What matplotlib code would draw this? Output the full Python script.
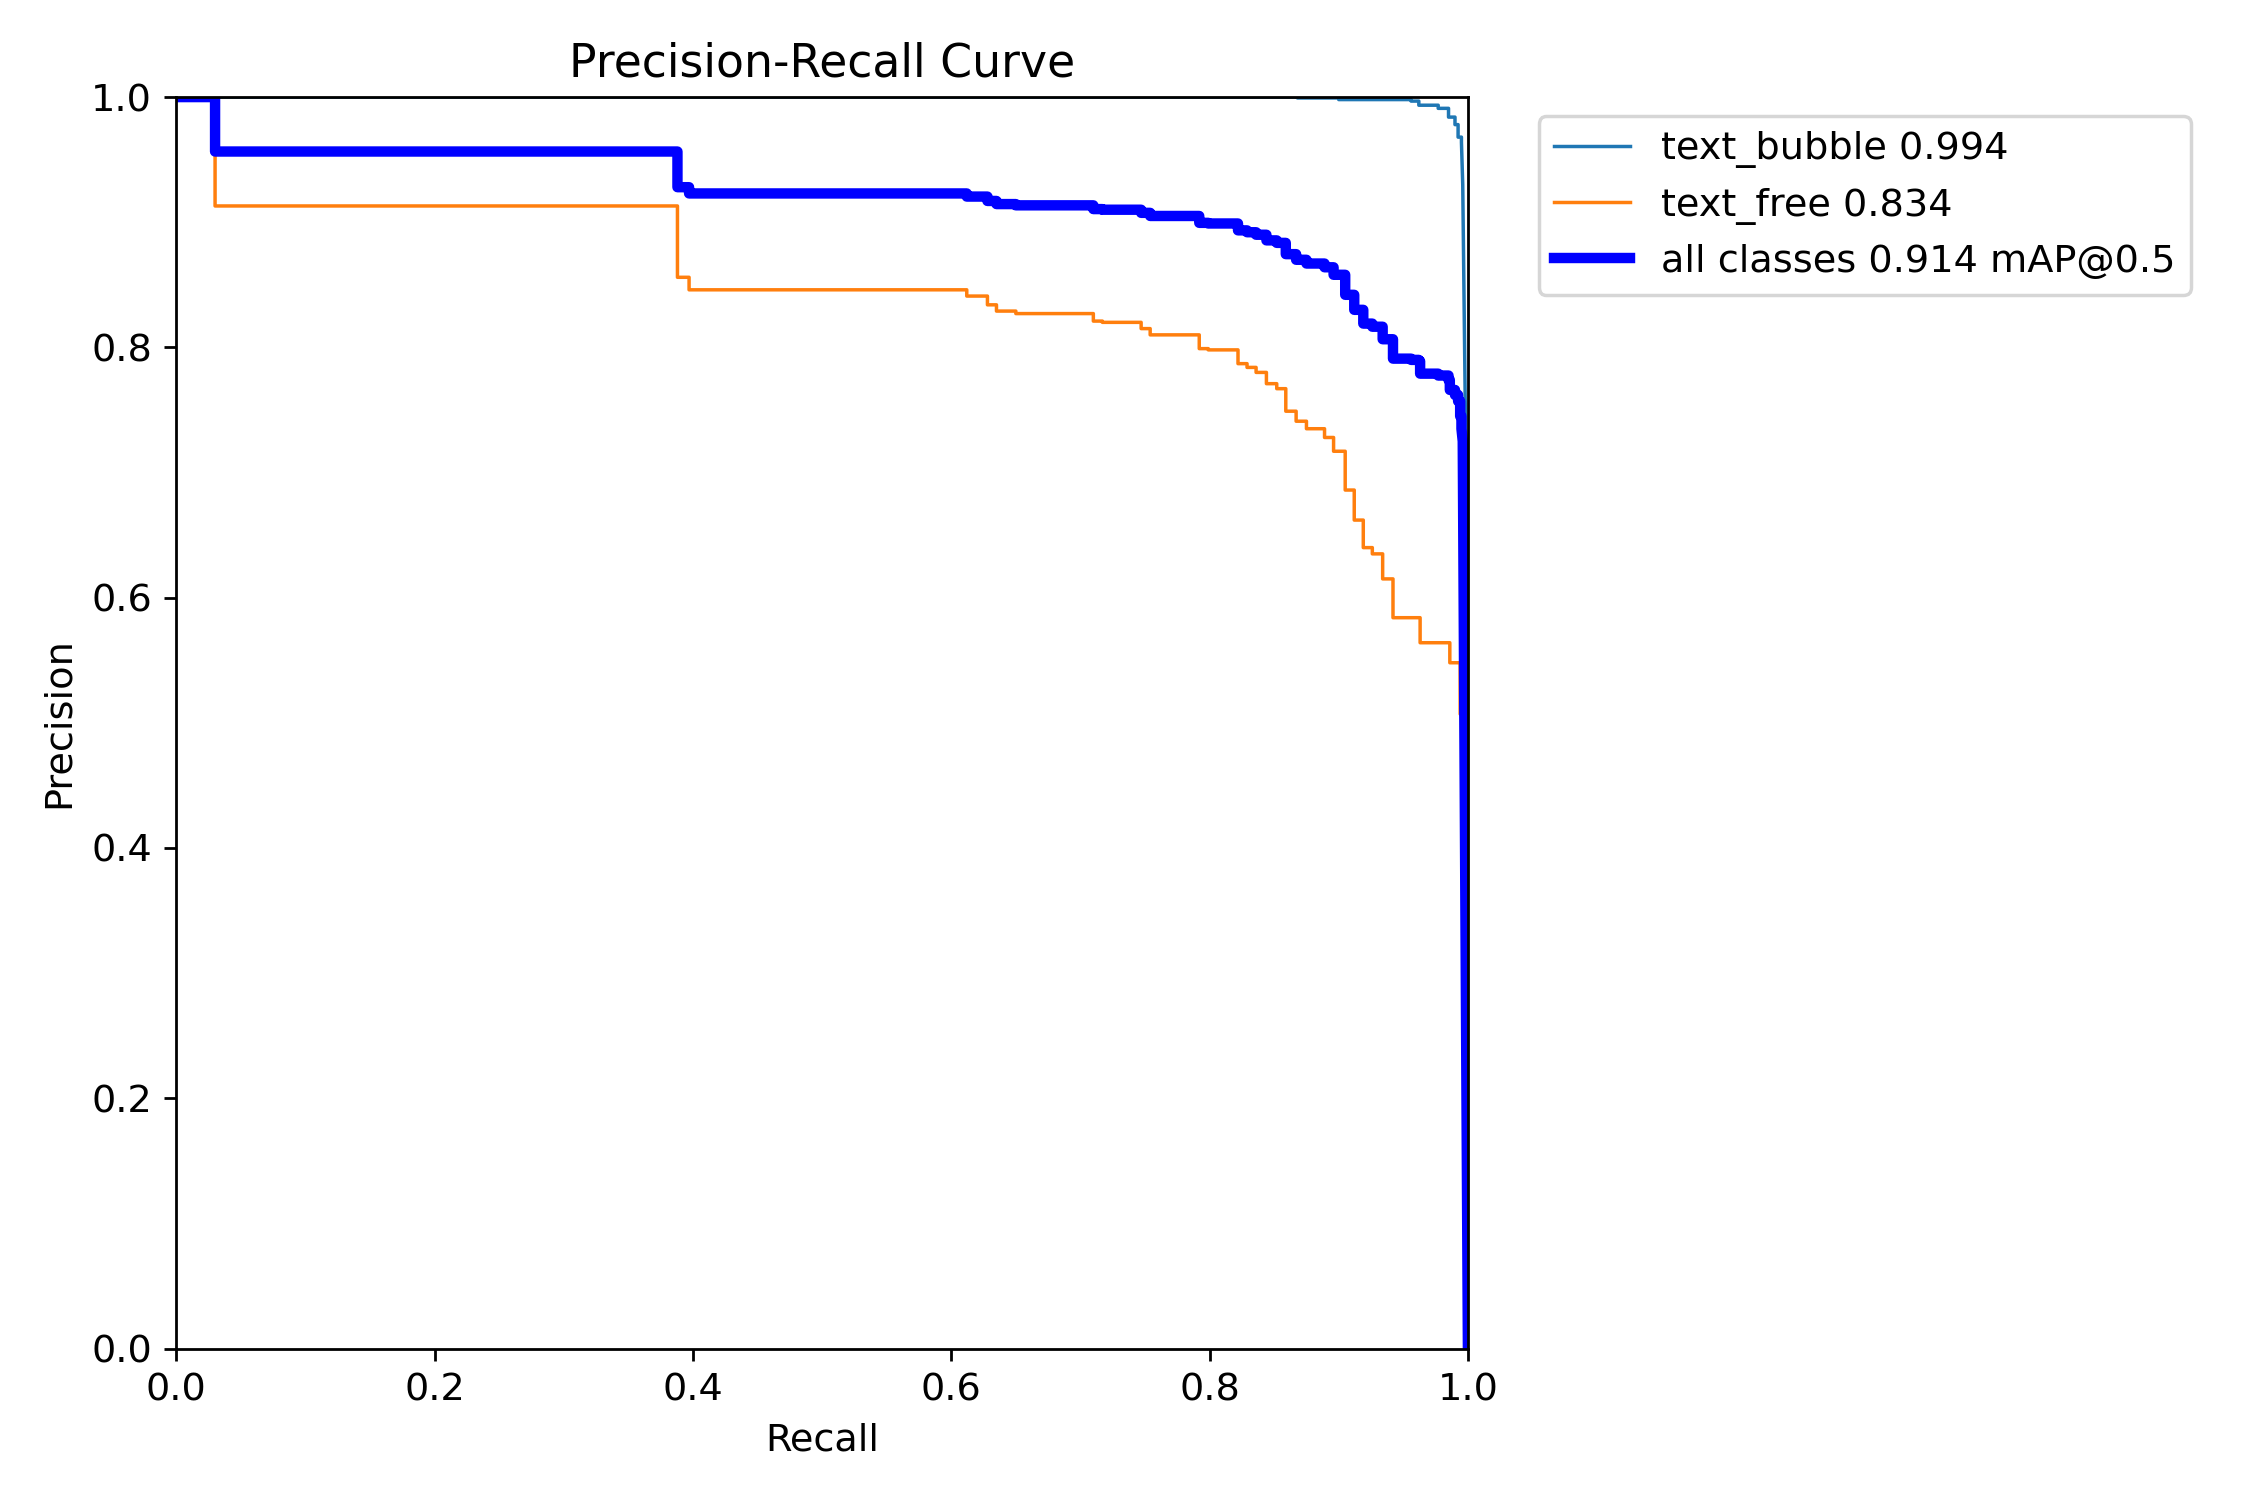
import numpy as np
import matplotlib
matplotlib.use("Agg")
import matplotlib.pyplot as plt

plt.rcParams.update({"font.size": 11})

# ---- dati ----
# text_bubble: inizio di ogni gradino (recall) e precisione del gradino
bubble_r = [0.0, 0.868, 0.900, 0.956, 0.962, 0.977, 0.985, 0.990, 0.9924, 0.995]
bubble_p = [1.0, 0.9993, 0.998, 0.9968, 0.9935, 0.991, 0.984, 0.978, 0.968, 0.964]
bubble_tail_r = [0.996, 0.998, 1.0]
bubble_tail_p = [0.93, 0.75, 0.0]

# text_free
free_r = [0.0, 0.030, 0.388, 0.397, 0.612, 0.628, 0.635, 0.650, 0.710, 0.717,
          0.747, 0.754, 0.792, 0.799, 0.822, 0.829, 0.836, 0.844, 0.852, 0.859,
          0.867, 0.875, 0.889, 0.896, 0.905, 0.912, 0.919, 0.926, 0.934, 0.942,
          0.963, 0.986, 0.994]
free_p = [1.0, 0.913, 0.856, 0.846, 0.841, 0.834, 0.829, 0.827, 0.821, 0.820,
          0.815, 0.810, 0.799, 0.798, 0.787, 0.784, 0.780, 0.771, 0.767, 0.749,
          0.741, 0.735, 0.728, 0.717, 0.686, 0.662, 0.640, 0.635, 0.615, 0.584,
          0.564, 0.548, 0.507]
free_tail_r = [0.995, 1.0]
free_tail_p = [0.507, 0.0]

# all classes (media delle due classi)
all_r = [0.0, 0.030, 0.388, 0.397, 0.612, 0.628, 0.635, 0.650, 0.710, 0.717,
         0.747, 0.754, 0.792, 0.799, 0.822, 0.829, 0.836, 0.844, 0.852, 0.859,
         0.867, 0.875, 0.889, 0.896, 0.905, 0.912, 0.919, 0.926, 0.934, 0.942,
         0.956, 0.962, 0.963, 0.977, 0.985, 0.986, 0.990, 0.9924, 0.994, 0.995]
all_p = [1.0, 0.9565, 0.928, 0.923, 0.9205, 0.917, 0.9145, 0.9135, 0.9105, 0.910,
         0.9075, 0.905, 0.8995, 0.899, 0.8935, 0.892, 0.890, 0.8855, 0.8835, 0.8745,
         0.870, 0.867, 0.864, 0.858, 0.842, 0.830, 0.819, 0.8165, 0.8065, 0.791,
         0.790, 0.789, 0.779, 0.7775, 0.774, 0.766, 0.762, 0.757, 0.745, 0.735]
all_tail_r = [0.996, 1.0]
all_tail_p = [0.725, 0.0]

names = ["text_bubble", "text_free"]
ap50 = [0.994, 0.834]
map50 = 0.914


def scalini(r, p, tail_r, tail_p):
    # costruisce la linea a gradini e aggiunge la coda finale
    r = np.asarray(r)
    p = np.asarray(p)
    xs = np.repeat(r, 2)[1:]
    ys = np.repeat(p, 2)[:-1]
    xs = np.concatenate([xs, tail_r])
    ys = np.concatenate([ys, tail_p])
    return xs, ys


fig, ax = plt.subplots(1, 1, figsize=(9, 6), tight_layout=True)

x, y = scalini(bubble_r, bubble_p, bubble_tail_r, bubble_tail_p)
ax.plot(x, y, linewidth=1, label=f"{names[0]} {ap50[0]:.3f}")
x, y = scalini(free_r, free_p, free_tail_r, free_tail_p)
ax.plot(x, y, linewidth=1, label=f"{names[1]} {ap50[1]:.3f}")
x, y = scalini(all_r, all_p, all_tail_r, all_tail_p)
ax.plot(x, y, linewidth=3, color="blue", label=f"all classes {map50:.3f} mAP@0.5")

ax.set_xlabel("Recall")
ax.set_ylabel("Precision")
ax.set_xlim(0, 1)
ax.set_ylim(0, 1)
ax.legend(bbox_to_anchor=(1.04, 1), loc="upper left")
ax.set_title("Precision-Recall Curve")
fig.savefig("out.png", dpi=250)
